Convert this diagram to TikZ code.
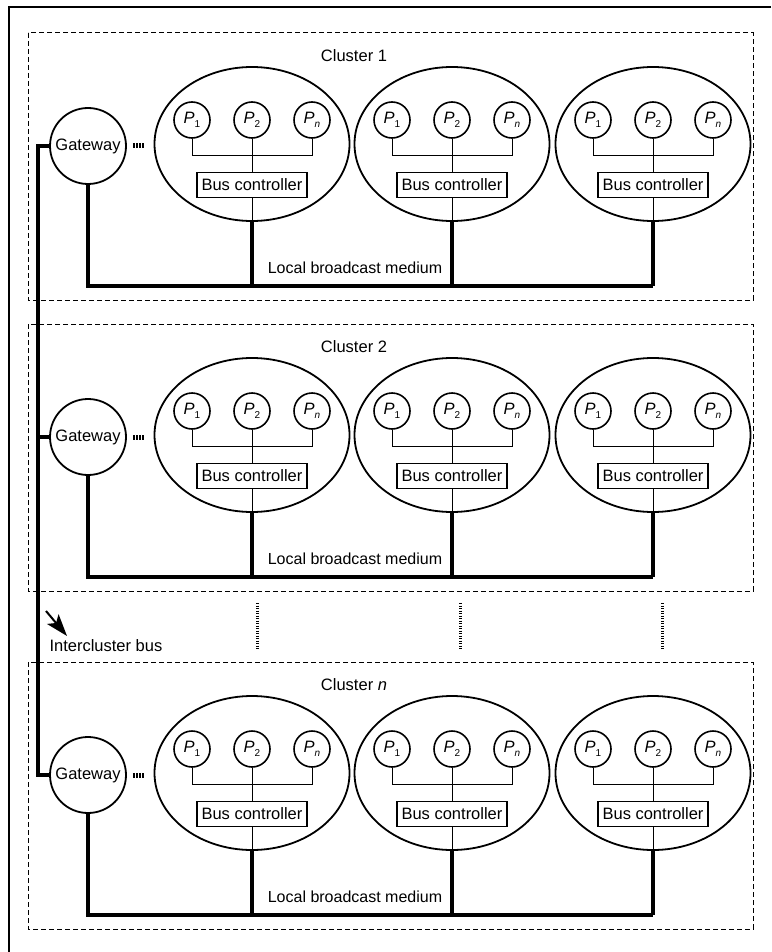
\documentclass[tikz,border=0pt]{standalone}
\usepackage{fontspec}
\setmainfont{Liberation Sans}
\usetikzlibrary{shapes.geometric,arrows.meta}
\newcommand{\psub}[1]{\raisebox{-0.45ex}{\fontsize{10}{12}\selectfont #1}}
\newcommand{\pname}[1]{\textit{P}\psub{#1}}

\begin{document}
\begin{tikzpicture}[x=1pt, y=-1pt]
	\tikzstyle{every node}=[font=\fontsize{16.5}{19}\selectfont]
	\tikzstyle{proc}=[draw, circle, line width=1.6pt, minimum size=36pt, inner sep=0pt]
	\tikzstyle{gate}=[draw, circle, line width=1.8pt, minimum size=76pt, inner sep=0pt]
	\tikzstyle{station}=[draw, ellipse, line width=1.8pt, minimum width=195pt, minimum height=154pt]
	\tikzstyle{ctrl}=[draw, line width=1.6pt, minimum width=110pt, minimum height=25pt, inner sep=0pt]
	\tikzstyle{thin}=[line width=0.8pt]
	\tikzstyle{medium}=[line width=3.6pt]
	\tikzstyle{cluster}=[line width=1pt, dash pattern=on 5pt off 3pt]
	\tikzstyle{dots}=[line width=5pt, dash pattern=on 1.6pt off 1.5pt]
	\tikzstyle{vdots}=[line width=3pt, dash pattern=on 1.3pt off 1.2pt]

	\useasboundingbox (0,0) rectangle (771,952);

	%frame
	\draw[line width=1.2pt] (771,7) -- (9,7) -- (9,952);

	%clusters
	\foreach \c/\t/\lab in {1/33/1, 2/324/2, 3/662/\textit{n}} {
		\draw[cluster] (28,\t) rectangle (753,\t+267);
		\node (lab\c) at (354,\t+23) {Cluster \lab};
		\node[gate] (gw\c) at (88,\t+113) {Gateway};
		\draw[dots] ([xshift=6pt]gw\c.east) -- ++(11,0);
		\coordinate (med\c) at (0,\t+253);
		\foreach \e/\x in {1/252, 2/452, 3/653} {
			\node[station] (el\c-\e) at (\x,\t+111) {};
			\node[proc] (pa\c-\e) at (\x-60,\t+87) {\pname{1}};
			\node[proc] (pb\c-\e) at (\x,\t+87) {\pname{2}};
			\node[proc] (pn\c-\e) at (\x+60,\t+87) {\pname{\textit{n}}};
			\node[ctrl] (bc\c-\e) at (\x,\t+152) {Bus controller};
			\draw[thin] (pa\c-\e.south) -- ++(0,17) -| (pn\c-\e.south);
			\draw[thin] (pb\c-\e.south) -- (bc\c-\e.north);
			\draw[thin] (bc\c-\e.south) -- (el\c-\e.south);
			\draw[medium] (el\c-\e.south) -- (el\c-\e.south |- med\c);
		}
		\draw[medium] (gw\c.south) |- (el\c-3.south |- med\c);
		\node[font=\fontsize{16}{19}\selectfont] (lbm\c) at (355,\t+235) {Local broadcast medium};
	}

	%intercluster bus
	\coordinate (ib) at (38,0);
	\draw[medium] (gw1.west) -| (ib |- gw3.west) -- (gw3.west);
	\draw[medium] (gw2.west) -- (gw2.west -| ib);
	\foreach \x in {257,460,662}
		\draw[vdots] (\x,603) -- (\x,650);
	\node[anchor=west] (ibl) at (46,646) {Intercluster bus};
	\coordinate (tail) at (46,611);
	\coordinate (tip) at (67,636);
	\draw[line width=2pt, -{Stealth[length=22pt, width=15pt, inset=5pt]}] (tail) -- (tip);
\end{tikzpicture}
\end{document}
